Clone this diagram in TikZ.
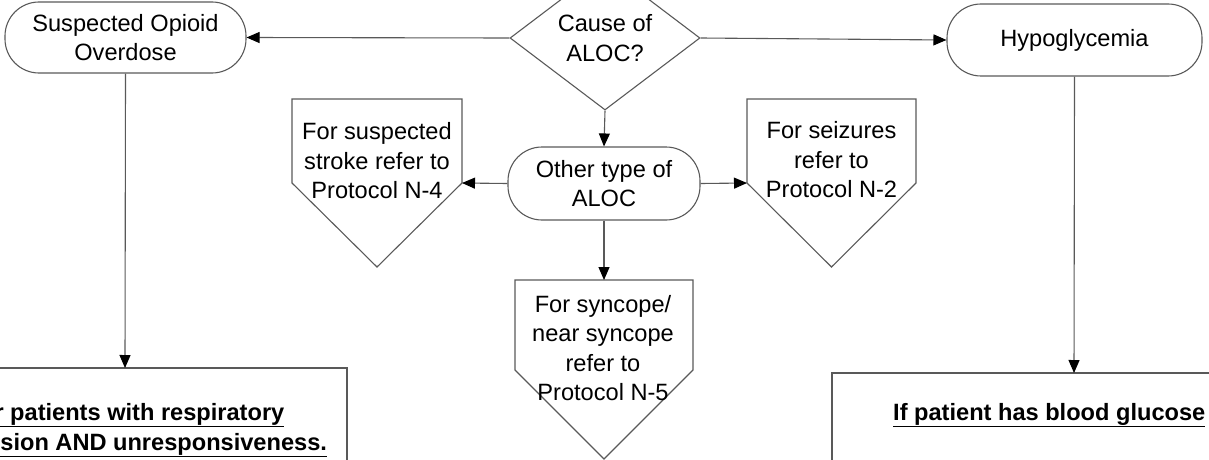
\documentclass[tikz,border=0pt]{standalone}
\usepackage{fontspec}
\setmainfont{Liberation Sans}
\usetikzlibrary{shapes.geometric,arrows.meta}

\begin{document}
\begin{tikzpicture}[x=1pt,y=-1pt,>={Triangle[length=13pt,width=11pt,color=black]}]
  \tikzstyle{line}=[draw=black!65, line width=1.1pt]
  \tikzstyle{term}=[line, rectangle, rounded corners=34pt, align=center,
    font=\fontsize{23.6}{29.5}\selectfont, inner sep=0pt]
  \tikzstyle{decision}=[line, diamond, aspect=1.32, inner sep=0pt, align=center,
    minimum width=190pt, minimum height=144pt, font=\fontsize{23.6}{29.5}\selectfont]
  \tikzstyle{txt}=[align=center, inner sep=0pt, font=\fontsize{23.6}{29.5}\selectfont]
  \tikzstyle{boldtxt}=[txt, font=\fontsize{23.6}{30}\selectfont\bfseries]

  \useasboundingbox (0,0) rectangle (1209,460);
  \clip (0,0) rectangle (1209,460);

  \node[decision] (cause) at (605,38) {Cause of\\ALOC?};

  \node[term, minimum width=241pt, minimum height=71pt] (opioid) at (125.5,37.5) {Suspected Opioid\\Overdose};

  \node[term, minimum width=255pt, minimum height=72pt] (hypo) at (1074.5,40) {Hypoglycemia};

  \node[term, minimum width=192pt, minimum height=73pt] (other) at (604,183.5) {Other type of\\ALOC};

  % off-page shapes
  \coordinate (strokeL) at (292,183);
  \coordinate (strokeR) at (462,183);
  \draw[line] (292,99) -- (462,99) -- (strokeR) -- (377,267) -- (strokeL) -- cycle;
  \node[txt] (stroke) at (377,161) {For suspected\\stroke refer to\\Protocol N-4};

  \coordinate (seizL) at (747,183);
  \coordinate (seizR) at (916,183);
  \draw[line] (747,99) -- (916,99) -- (seizR) -- (831.5,267) -- (seizL) -- cycle;
  \node[txt] (seiz) at (831.5,160) {For seizures\\refer to\\Protocol N-2};

  \coordinate (syncT) at (604,280);
  \draw[line] (515,280) -- (693,280) -- (693,370) -- (604,459) -- (515,370) -- cycle;
  \node[txt] (sync) at (603,348) {For syncope/\\near syncope\\refer to\\Protocol N-5};

  % lower boxes
  \coordinate (leftT) at (125,368);
  \draw[line] (-97,368) rectangle (347,480);
  \node[boldtxt] (naloxone) at (125,430) {\underline{For patients with respiratory}\\\underline{depression AND unresponsiveness.}};

  \coordinate (rightT) at (1074,373);
  \draw[line] (832,373) rectangle (1320,480);
  \node[boldtxt, anchor=base west] (glucose) at (893,420) {\underline{If patient has blood glucose}};

  \draw[line,->] (cause.west) -- (opioid.east);
  \draw[line,->] (cause.east) -- (hypo.west);
  \draw[line,->] (cause.south) -- (other.north);
  \draw[line,->] (other.west) -- (strokeR);
  \draw[line,->] (other.east) -- (seizL);
  \draw[line,->] (other.south) -- (syncT);
  \draw[line,->] (opioid.south) -- (leftT);
  \draw[line,->] (hypo.south) -- (rightT);

\end{tikzpicture}
\end{document}
